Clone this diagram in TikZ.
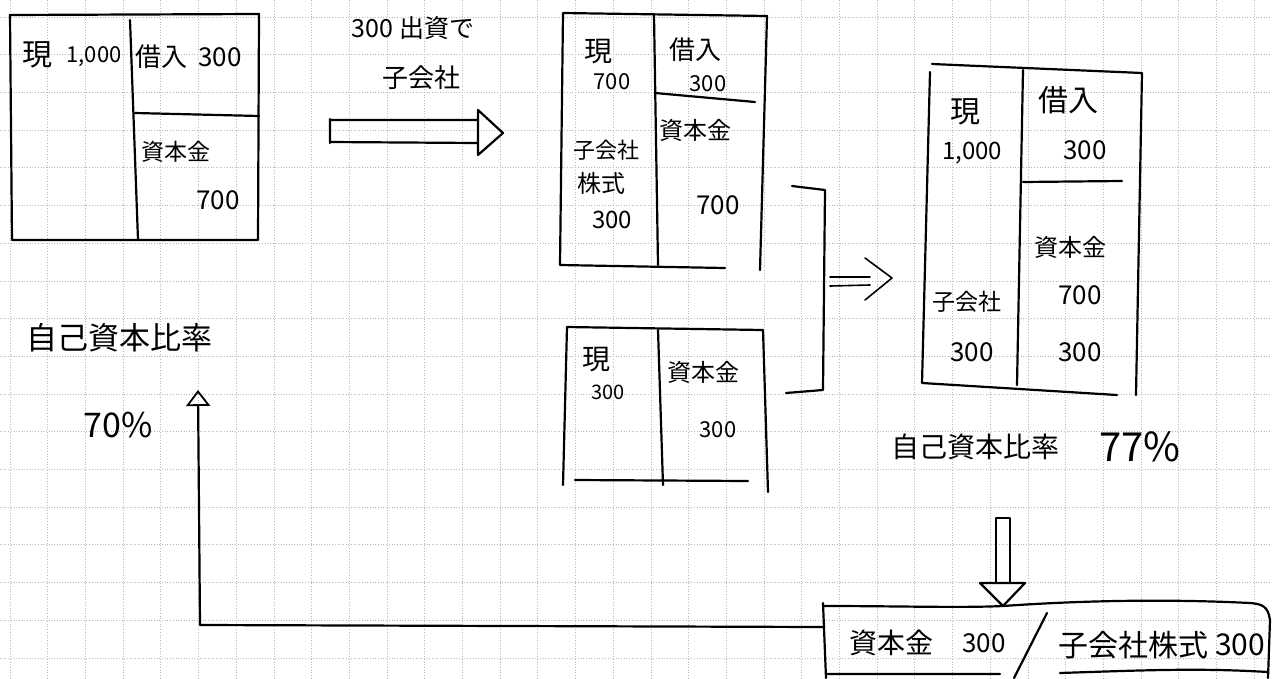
\documentclass[tikz,border=0pt]{standalone}
\usepackage{fontspec}
\setmainfont{Noto Sans CJK JP}
\usetikzlibrary{arrows.meta}
\tikzset{
  hand/.style={line width=2.2pt, line cap=round, line join=round},
  pen/.style={line width=1.6pt, line cap=round, line join=round},
  gridline/.style={gray!55, dotted, line width=0.7pt},
  txt/.style={inner sep=0pt, font=\fontsize{#1}{#1}\selectfont},
  txt/.default=24
}
\begin{document}
\begin{tikzpicture}[x=1pt,y=-1pt]
\useasboundingbox (0,0) rectangle (1272,678);
\fill[white] (0,0) rectangle (1272,678);
% graph paper grid
\foreach \i in {0,...,33} { \draw[gridline] ({10+37.7*\i},0) -- ({10+37.7*\i},678); }
\foreach \j in {0,...,17} { \draw[gridline] (0,{17+37.7*\j}) -- (1272,{17+37.7*\j}); }

% ---------- Box 1 ----------
\coordinate (b1tl) at (10,15); \coordinate (b1tr) at (259,14);
\coordinate (b1br) at (258,240); \coordinate (b1bl) at (12,240);
\draw[hand] (b1tl) -- (b1tr) -- (b1br) -- (b1bl) -- cycle;
\coordinate (b1dt) at (130,20); \coordinate (b1db) at (138,240);
\draw[hand] (b1dt) -- (b1db);
\coordinate (b1hl) at (135,113); \coordinate (b1hr) at (259,116);
\draw[hand] (b1hl) -- (b1hr);
\node[txt=30] (b1gen) at (38,55) {現};
\node[txt=22] (b1gennum) at (94,57) {1,000};
\node[txt=26] (b1kari) at (161,57) {借入};
\node[txt=26] (b1karinum) at (220,57) {300};
\node[txt=23] (b1shi) at (176,152) {資本金};
\node[txt=26] (b1shinum) at (218,200) {700};

% ---------- top arrow ----------
\node[txt=25] (lab1) at (413,28) {300 出資で};
\node[txt=26] (lab2) at (421,78) {子会社};
\coordinate (a1l) at (330,131); \coordinate (a1tip) at (503,133);
\draw[hand] (330,120) -- (478,120) (330,142) -- (478,143) (330,119) -- (330,143);
\draw[hand] (478,110) -- (a1tip) -- (478,155) -- cycle;

% ---------- Box 2 ----------
\coordinate (b2tl) at (563,13); \coordinate (b2tr) at (767,16);
\coordinate (b2br) at (760,270); \coordinate (b2bl) at (560,265);
\draw[hand] (b2tl) -- (b2tr) -- (b2br) (b2tl) -- (b2bl) -- (725,268);
\draw[hand] (654,15) -- (658,265);
\draw[hand] (655,93) -- (755,102);
\node[txt=28] (b2gen) at (598,52) {現};
\node[txt=22] (b2gennum) at (612,82) {700};
\node[txt=26] (b2kari) at (695,50) {借入};
\node[txt=22] (b2karinum) at (708,84) {300};
\node[txt=22] (b2ko) at (606,150) {子会社};
\node[txt=24] (b2kabu) at (601,183) {株式};
\node[txt=24] (b2konum) at (612,220) {300};
\node[txt=24] (b2shi) at (695,130) {資本金};
\node[txt=26] (b2shinum) at (718,205) {700};

% ---------- Box 3 ----------
\coordinate (b3tl) at (567,327); \coordinate (b3tr) at (763,330);
\coordinate (b3br) at (768,492); \coordinate (b3bl) at (563,485);
\draw[hand] (b3tl) -- (b3tr) -- (b3br) (b3tl) -- (b3bl) (575,480) -- (748,481);
\draw[hand] (658,330) -- (663,485);
\node[txt=28] (b3gen) at (596,360) {現};
\node[txt=20] (b3gennum) at (608,392) {300};
\node[txt=24] (b3shi) at (703,372) {資本金};
\node[txt=22] (b3shinum) at (718,430) {300};

% ---------- bracket and double arrow ----------
\coordinate (brt) at (792,186); \coordinate (brtr) at (825,190);
\coordinate (brbr) at (823,390); \coordinate (brb) at (786,393);
\draw[hand] (brt) -- (brtr) -- (brbr) -- (brb);
\coordinate (da1) at (830,281); \coordinate (da2) at (892,278);
\draw[pen] (830,277) -- (870,277) (830,286) -- (870,285);
\draw[pen] (865,258) -- (da2) -- (865,300);

% ---------- Box 4 ----------
\coordinate (b4tl) at (932,64); \coordinate (b4tr) at (1142,73);
\coordinate (b4br) at (1136,395); \coordinate (b4bl) at (922,383);
\draw[hand] (b4tl) -- (b4tr) -- (b4br) (930,72) -- (b4bl) -- (1117,395);
\draw[hand] (1023,70) -- (1017,385);
\draw[hand] (1023,182) -- (1122,181);
\node[txt=30] (b4gen) at (965,112) {現};
\node[txt=24] (b4gennum) at (972,153) {1,000};
\node[txt=30] (b4kari) at (1068,100) {借入};
\node[txt=26] (b4karinum) at (1085,150) {300};
\node[txt=24] (b4shi) at (1070,247) {資本金};
\node[txt=26] (b4shinum) at (1080,295) {700};
\node[txt=26] (b4shinum2) at (1080,352) {300};
\node[txt=23] (b4ko) at (967,302) {子会社};
\node[txt=26] (b4konum) at (972,352) {300};

% ---------- ratio right ----------
\node[txt=28] (r2) at (975,447) {自己資本比率};
\node[txt=40] (r2num) at (1140,447) {77\%};

% ---------- down hollow arrow ----------
\coordinate (dtip) at (1003,606);
\draw[hand] (996,583) -- (996,518) -- (1010,518) -- (1010,583);
\draw[hand] (980,583) -- (1025,583) -- (dtip) -- cycle;

% ---------- bottom journal box ----------
\coordinate (bbl) at (823,627);
\draw[hand] (823,603) -- (826,678);
\draw[hand] (823,606) .. controls (900,606) and (960,608) .. (dtip)
  .. controls (1060,602) and (1150,598) .. (1250,603)
  .. controls (1262,604) and (1268,606) .. (1270,620) -- (1268,678);
\draw[hand] (826,674) -- (1000,674) (1060,673) .. controls (1150,670) and (1200,668) .. (1268,672);
\node[txt=28] (jshi) at (891,643) {資本金};
\node[txt=26] (jshinum) at (984,643) {300};
\draw[hand] (1047,613) -- (1014,678);
\node[txt=30] (jko) at (1133,645) {子会社株式};
\node[txt=30] (jkonum) at (1240,645) {300};

% ---------- ratio left ----------
\node[txt=31] (r1) at (120,338) {自己資本比率};
\node[txt=34] (r1num) at (118,425) {70\%};

% ---------- feedback connector ----------
\coordinate (fc) at (200,625);
\coordinate (ftip) at (198,390);
\draw[hand, -{Triangle[open,length=16pt,width=24pt,line width=1.8pt]}] (bbl) -- (fc) -- (ftip);
\end{tikzpicture}
\end{document}
